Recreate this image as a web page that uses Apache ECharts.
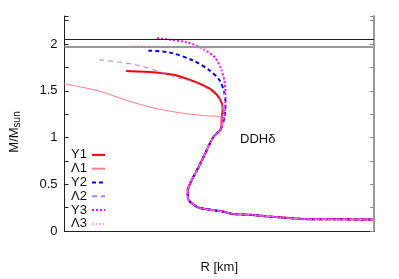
<!DOCTYPE html>
<html><head><meta charset="utf-8">
<script src="https://cdn.jsdelivr.net/npm/echarts@6/dist/echarts.min.js"></script>
<style>html,body{margin:0;padding:0;background:#fff}#c{width:399px;height:279px}</style>
</head><body><div id="c"></div>
<script>
// Shared nucleonic branch (from junction down to low-mass tail)
const commonR = [13.06, 12.79, 12.53, 12.32, 12.10, 11.98, 12.00, 12.16, 12.37, 13.11, 13.43, 14.06, 14.48, 15.86, 17.97];
const commonM = [1.100, 0.995, 0.818, 0.677, 0.536, 0.431, 0.342, 0.283, 0.247, 0.208, 0.183, 0.172, 0.159, 0.127, 0.124];

const y1R = [9.99, 11.05, 11.68, 12.69, 13.01, 13.11, 13.08];
const y1M = [1.711, 1.693, 1.658, 1.524, 1.418, 1.312, 1.206];

const l1R = [7.85, 8.51, 9.14, 9.99, 10.83, 11.68, 12.48, 13.06];
const l1M = [1.585, 1.542, 1.495, 1.400, 1.320, 1.267, 1.235, 1.212];

const y2R = [10.71, 11.37, 12.16, 12.69, 13.01, 13.17, 13.20, 13.17];
const y2M = [1.929, 1.912, 1.823, 1.717, 1.612, 1.471, 1.347, 1.224];

const l2R = [9.12, 9.78, 10.41, 11.05, 11.68, 12.16, 12.69, 13.01, 13.11, 13.08];
const l2M = [1.831, 1.806, 1.770, 1.707, 1.637, 1.595, 1.506, 1.400, 1.291, 1.206];

const y3R = [10.99, 11.95, 12.48, 12.85, 13.06, 13.17, 13.20, 13.17];
const y3M = [2.063, 2.018, 1.947, 1.859, 1.735, 1.595, 1.453, 1.280];

const l3R = [10.13, 10.89, 11.68, 12.37, 12.73, 12.98, 13.13, 13.17, 13.17];
const l3M = [1.982, 1.979, 1.971, 1.954, 1.905, 1.810, 1.672, 1.503, 1.312];

const limitMasses = [2.05, 1.97];
const seriesNames = ['Y1', 'Λ1', 'Y2', 'Λ2', 'Y3', 'Λ3'];
const yTicks = [0, 0.5, 1, 1.5, 2];

function zip(r, m) { return r.map((v, i) => [v, m[i]]); }
function full(r, m) { return zip(r, m).concat(zip(commonR, commonM)); }

const styles = [
  {color: '#ff0000', width: 2, type: 'solid'},
  {color: '#ff8080', width: 1, type: 'solid'},
  {color: '#0000ff', width: 2, type: [4, 3]},
  {color: '#8c8cff', width: 1, type: [5, 4]},
  {color: '#ff00ff', width: 2, type: [2, 2]},
  {color: '#ff99ff', width: 1, type: [1.5, 2]}
];
const datas = [full(y1R, y1M), full(l1R, l1M), full(y2R, y2M), full(l2R, l2M), full(y3R, y3M), full(l3R, l3M)];

const series = seriesNames.map((n, i) => ({
  name: n, type: 'line', data: datas[i], showSymbol: false, symbol: 'none',
  smooth: 0.3, lineStyle: styles[i], itemStyle: {color: styles[i].color}, z: 3
}));
series.push({
  name: 'limits', type: 'line', data: [], symbol: 'none',
  markLine: {
    silent: true, symbol: 'none', label: {show: false},
    data: [
      {yAxis: limitMasses[0], lineStyle: {color: '#222', width: 1, type: 'solid'}},
      {yAxis: limitMasses[1], lineStyle: {color: '#999', width: 2, type: 'solid'}}
    ]
  }
});

const chart = echarts.init(document.getElementById('c'), null, {renderer: 'canvas'});
chart.setOption({
  animation: false,
  backgroundColor: '#fff',
  grid: {left: 59, right: 25, top: 16, bottom: 45},
  textStyle: {fontFamily: 'Liberation Sans'},
  legend: {
    data: seriesNames, orient: 'vertical', left: 68, top: 148, align: 'right', padding: 0,
    itemWidth: 13, itemHeight: 10, itemGap: 0,
    itemStyle: {opacity: 0},
    textStyle: {fontFamily: 'Liberation Sans', fontSize: 13, color: '#111', lineHeight: 13.8, width: 19, align: 'left'}
  },
  xAxis: [
    {type: 'value', min: 8, max: 18, position: 'bottom',
     name: 'R [km]', nameLocation: 'middle', nameGap: 30,
     nameTextStyle: {fontFamily: 'Liberation Sans', fontSize: 13, color: '#111'},
     axisLine: {show: true, lineStyle: {color: '#222', width: 1}},
     axisTick: {show: false}, axisLabel: {show: false}, splitLine: {show: false}},
    {type: 'value', min: 8, max: 18, position: 'top',
     axisLine: {show: true, lineStyle: {color: '#222', width: 1}},
     axisTick: {show: false}, axisLabel: {show: false}, splitLine: {show: false}}
  ],
  yAxis: [
    {type: 'value', min: 0, max: 2.3, interval: 0.25, position: 'left',
     name: '{a|M/M}{b|sun}', nameLocation: 'middle', nameGap: 42, nameRotate: 90,
     nameTextStyle: {padding: [0, 17, 0, 0], rich: {
       a: {fontFamily: 'Liberation Sans', fontSize: 13, color: '#111'},
       b: {fontFamily: 'Liberation Sans', fontSize: 10, color: '#111', padding: [6, 0, 0, 0]}
     }},
     axisLine: {show: true, lineStyle: {color: '#222', width: 1}},
     axisTick: {show: true, inside: true, length: 4, lineStyle: {color: '#222'}},
     axisLabel: {margin: 7, fontFamily: 'Liberation Sans', fontSize: 13, color: '#111',
       formatter: v => (yTicks.some(t => Math.abs(t - v) < 1e-6) ? String(+v.toFixed(2)) : '')},
     splitLine: {show: false}},
    {type: 'value', min: 0, max: 2.3, interval: 0.25, position: 'right',
     axisLine: {show: true, lineStyle: {color: '#999', width: 2}},
     axisTick: {show: true, inside: true, length: 4, lineStyle: {color: '#888'}},
     axisLabel: {show: false}, splitLine: {show: false}}
  ],
  graphic: [{type: 'text', left: 240, top: 133,
    style: {text: 'DDHδ', fontFamily: 'Liberation Sans', fontSize: 13, fill: '#111'}}],
  series: series
});
</script></body></html>
